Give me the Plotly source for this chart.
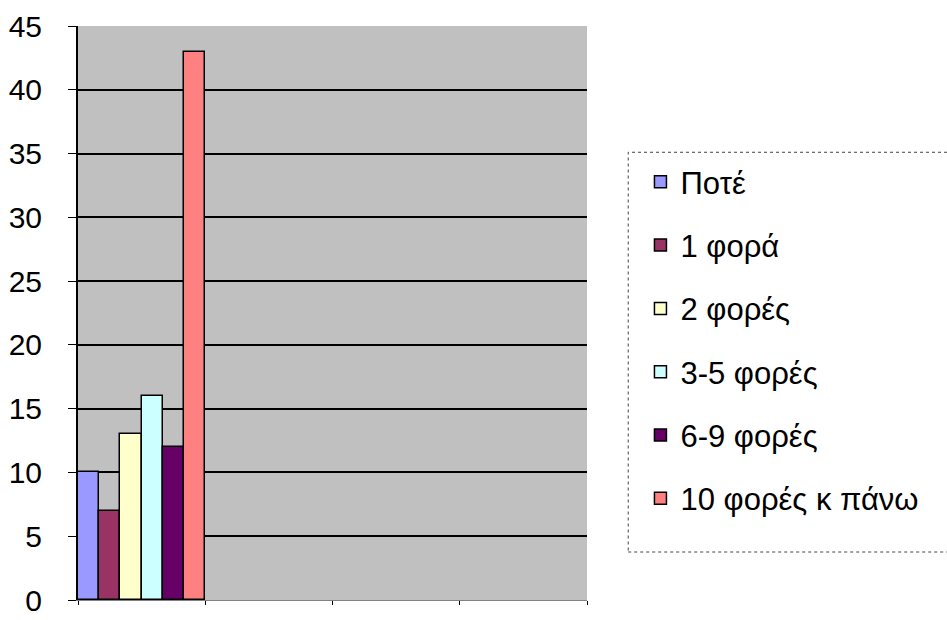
import plotly.graph_objects as go

# Frequency groups and their counts (single category on the x axis)
series_names = ["Ποτέ", "1 φορά", "2 φορές", "3-5 φορές", "6-9 φορές", "10 φορές κ πάνω"]
series_values = [10, 7, 13, 16, 12, 43]
series_colors = ["#9999FF", "#993366", "#FFFFCC", "#CCFFFF", "#660066", "#FF8080"]
category_x = [0]
y_ticks = [0, 5, 10, 15, 20, 25, 30, 35, 40, 45]

fig = go.Figure()
for i, (name, val, col) in enumerate(zip(series_names, series_values, series_colors)):
    fig.add_trace(go.Bar(
        x=category_x, y=[val], name=name,
        marker=dict(color=col, line=dict(color="black", width=1.5)),
        legendgroup=f"g{i}",
    ))

# dotted frame around the legend area
fig.add_shape(
    type="rect", xref="paper", yref="paper",
    x0=1.081, x1=1.75, y0=0.0836, y1=0.780,
    line=dict(color="#444444", width=1, dash="dot"),
    fillcolor="white", layer="below",
)

fig.update_layout(
    width=947, height=620,
    margin=dict(l=78, r=360, t=26, b=20),
    paper_bgcolor="white",
    plot_bgcolor="#C0C0C0",
    barmode="group", bargap=0, bargroupgap=0,
    font=dict(family="Liberation Sans, Arial, sans-serif", color="black"),
    xaxis=dict(
        range=[-0.5, 3.5], tickmode="array", tickvals=[-0.5, 0.5, 1.5, 2.5, 3.5],
        showticklabels=False, ticks="outside", ticklen=4, tickcolor="black",
        showgrid=False, zeroline=False, showline=True, linecolor="#808080", linewidth=1,
        automargin=False,
    ),
    yaxis=dict(
        range=[0, 45], tickvals=y_ticks, ticks="outside", ticklen=8, tickcolor="black",
        tickfont=dict(size=30), ticklabelstandoff=20, automargin=False,
        ticklabeloverflow="allow",
        showgrid=True, gridcolor="black", gridwidth=2,
        zeroline=False, showline=True, linecolor="black", linewidth=2,
    ),
    legend=dict(
        x=1.105, y=0.775, xanchor="left", yanchor="top",
        bgcolor="rgba(0,0,0,0)", borderwidth=0,
        font=dict(size=31), tracegroupgap=20, itemwidth=30,
    ),
    showlegend=True,
)

fig.write_html("out.html")
